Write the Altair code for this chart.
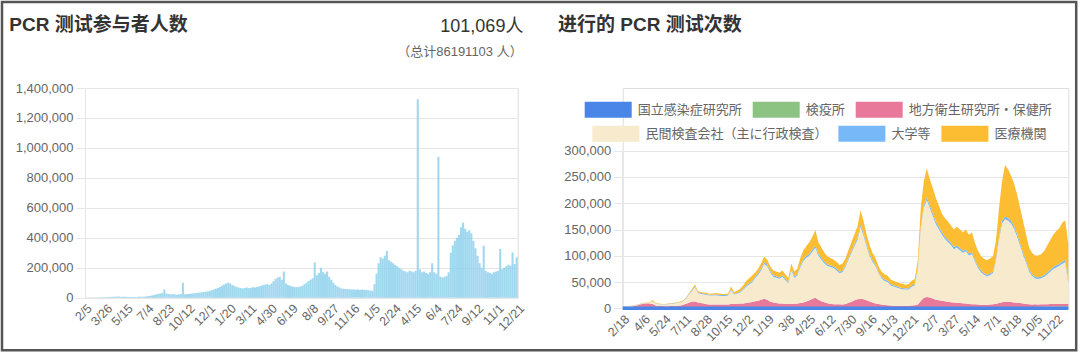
import altair as alt
import pandas as pd

# ---------------- text ----------------
left_title = "PCR 测试参与者人数"
left_latest = "101,069人"
left_total = "（总计86191103 人）"
right_title = "进行的 PCR 测试次数"

# ---------------- left chart data (thousands of people, one value per 5-day step) ----------------
left_start = "2020-02-05"
left_step_days = 5
left_values_k = [
    0.5, 1, 1, 1.5, 1.5, 2, 2, 2.5, 3, 3,
    3, 4, 5, 6, 7, 7, 8, 6, 7, 6,
    6, 5, 5, 6, 5, 6, 7, 6, 7, 8,
    10, 12, 15, 18, 22, 25, 28, 30, 55, 28,
    25, 22, 24, 22, 20, 22, 24, 100, 22, 24,
    25, 27, 28, 30, 32, 34, 36, 38, 40, 42,
    45, 50, 55, 60, 65, 72, 80, 88, 95, 100,
    95, 85, 78, 72, 68, 65, 62, 65, 68, 64,
    66, 70, 68, 72, 75, 80, 85, 88, 90, 85,
    95, 110, 125, 135, 140, 120, 175, 95, 85, 80,
    75, 72, 70, 72, 75, 80, 90, 100, 110, 120,
    130, 235, 150, 165, 200, 170, 160, 175, 140, 120,
    100, 85, 75, 68, 62, 60, 58, 58, 56, 55,
    55, 54, 55, 52, 54, 53, 52, 50, 48, 45,
    90, 160, 230, 270, 260, 280, 313, 250, 240, 230,
    220, 210, 200, 190, 180, 175, 170, 180, 175, 170,
    180, 1325, 190, 170, 175, 165, 160, 170, 230, 170,
    160, 940, 140, 135, 140, 145, 170, 300, 350, 380,
    400, 420, 470, 502, 460, 440, 450, 430, 380, 330,
    280, 230, 200, 347, 180, 170, 165, 160, 170, 175,
    180, 325, 190, 200, 210, 220, 215, 302, 225, 270,
]
left_ticks = ["2020-02-05", "2020-03-26", "2020-05-15", "2020-07-04", "2020-08-23", "2020-10-12",
              "2020-12-01", "2021-01-20", "2021-03-11", "2021-04-30", "2021-06-19", "2021-08-08",
              "2021-09-27", "2021-11-16", "2022-01-05", "2022-02-24", "2022-04-15", "2022-06-04",
              "2022-07-24", "2022-09-12", "2022-11-01", "2022-12-21"]
left_yticks = [0, 200000, 400000, 600000, 800000, 1000000, 1200000, 1400000]

# ---------------- right chart data (thousands of tests, weekly from 2020-02-18) ----------------
right_start = "2020-02-18"
right_step_days = 7
right_ticks = ["2020-02-18", "2020-04-06", "2020-05-24", "2020-07-11", "2020-08-28", "2020-10-15",
               "2020-12-02", "2021-01-19", "2021-03-08", "2021-04-25", "2021-06-12", "2021-07-30",
               "2021-09-16", "2021-11-03", "2021-12-21", "2022-02-07", "2022-03-27", "2022-05-14",
               "2022-07-01", "2022-08-18", "2022-10-05", "2022-11-22"]
right_yticks = [0, 50000, 100000, 150000, 200000, 250000, 300000]

series_names = ["国立感染症研究所", "検疫所", "地方衛生研究所・保健所",
                "民間検査会社（主に行政検査）", "大学等", "医療機関"]
series_colors = ["#4a86e8", "#8cc383", "#e9799a", "#f7eacd", "#76b8f8", "#fcbd33"]

niid_k = [
    0.3, 0.3, 0.3, 0.3, 0.4, 0.4, 0.4, 0.4, 0.3, 0.3, 0.3, 0.3, 0.2, 0.2, 0.2, 0.2, 0.2, 0.2, 0.2, 0.2, 0.2, 0.3, 0.3, 0.3, 0.3,
    0.3, 0.3, 0.3, 0.2, 0.2, 0.2, 0.2, 0.2, 0.2, 0.2, 0.2, 0.2, 0.2, 0.2, 0.2, 0.2, 0.2, 0.2, 0.2, 0.3, 0.3, 0.3, 0.3, 0.3, 0.3,
    0.3, 0.3, 0.3, 0.3, 0.2, 0.2, 0.2, 0.2, 0.2, 0.3, 0.3, 0.3, 0.3, 0.3, 0.3, 0.2, 0.2, 0.2, 0.2, 0.2, 0.2, 0.2, 0.2, 0.2, 0.2,
    0.3, 0.3, 0.3, 0.3, 0.3, 0.2, 0.2, 0.2, 0.2, 0.2, 0.2, 0.2, 0.2, 0.2, 0.2, 0.2, 0.2, 0.2, 0.2, 0.2, 0.3, 0.3, 0.3, 0.3, 0.3,
    0.3, 0.3, 0.3, 0.3, 0.3, 0.3, 0.2, 0.2, 0.2, 0.2, 0.2, 0.2, 0.2, 0.2, 0.2, 0.2, 0.2, 0.2, 0.2, 0.2, 0.2, 0.2, 0.2, 0.2, 0.2,
    0.2, 0.3, 0.3, 0.3, 0.3, 0.3, 0.3, 0.2, 0.2, 0.2, 0.2, 0.2, 0.2, 0.2, 0.2, 0.2, 0.2, 0.2, 0.2, 0.2, 0.2, 0.2, 0.2, 0.2,
]
quarantine_k = [
    0.1, 0.1, 0.1, 0.2, 0.3, 0.4, 0.5, 0.4, 0.3, 0.2, 0.2, 0.2, 0.2, 0.2, 0.2, 0.2, 0.3, 0.3, 0.4, 0.4, 0.5, 0.6, 0.6, 0.7, 0.7,
    0.8, 0.8, 0.8, 0.9, 0.9, 1.0, 1.0, 1.0, 1.1, 1.1, 1.2, 1.2, 1.1, 1.0, 1.0, 1.0, 1.0, 1.1, 1.2, 1.3, 1.4, 1.3, 1.1, 1.0, 0.9,
    0.9, 0.9, 0.9, 1.0, 1.0, 1.0, 1.1, 1.1, 1.2, 1.2, 1.1, 1.0, 1.0, 1.0, 1.0, 1.1, 1.2, 1.3, 1.4, 1.5, 1.6, 1.6, 1.5, 1.4, 1.4,
    1.5, 1.5, 1.4, 1.3, 1.2, 1.2, 1.1, 1.1, 1.0, 1.0, 1.0, 1.0, 1.1, 1.2, 1.3, 1.4, 1.5, 1.5, 1.4, 1.6, 1.8, 2.0, 2.2, 2.2, 2.0,
    1.8, 1.6, 1.5, 1.4, 1.3, 1.3, 1.2, 1.2, 1.3, 1.4, 1.5, 1.6, 1.6, 1.5, 1.5, 1.4, 1.4, 1.5, 1.6, 1.7, 1.8, 1.9, 2.0, 2.1, 2.2,
    2.3, 2.4, 2.4, 2.3, 2.2, 2.1, 2.0, 2.0, 2.1, 2.2, 2.3, 2.4, 2.6, 2.8, 3.0, 3.2, 3.4, 3.5, 3.6, 3.6, 3.7, 3.8, 3.8, 3.6,
]
local_k = [
    2, 2, 2.5, 3, 4, 5,
    7, 8, 9, 9, 8,
    5, 4, 4, 3.5, 3.5, 4, 4,
    4.5, 5, 6,
    8, 10, 12, 12,
    10, 9, 8, 7, 6.5, 6, 6, 6,
    6, 6, 6, 7,
    7, 7.5, 8, 8, 9, 10, 11,
    12, 13, 15, 17,
    15, 12, 10, 9,
    8, 8, 7.5, 7, 7, 7.5,
    8, 9, 10, 12, 14,
    17, 19, 15,
    12, 10, 8, 7,
    6, 6, 6, 6,
    7, 9, 11, 14, 16,
    17, 16, 14, 12, 10, 8, 7,
    6, 5, 4.5,
    4, 3.5, 3.5, 3, 3, 3, 3,
    3, 3.5, 5,
    12, 18, 20, 19, 17, 15, 14, 13, 12, 11, 10,
    9.5, 9, 8.5, 8, 7.5, 7, 6.5, 6, 5.5,
    5, 5, 5, 5, 5.5, 6.5,
    8, 9, 10, 10, 9.5, 9, 8.5, 8, 7, 6,
    5.5, 5, 5, 4.5, 4.5, 4.5, 4.5, 4.5, 4.5, 4.5, 5, 5, 5, 5,
]
private_k = [
    0.5, 0.5, 0.8, 1, 1, 0.8,
    0.5, 1, 1, 1.5, 5,
    3.5, 3.5, 3, 3.5, 4, 4, 4.5,
    5, 5.5, 6.5,
    10, 15, 20, 27,
    18, 17.5, 17.5, 17.5, 17, 17.5, 18, 17,
    16.5, 16.5, 17, 26,
    18, 19, 21, 26, 31, 34, 37,
    44, 49, 56, 66,
    64, 55, 49, 48,
    47, 51, 45.5, 40, 64, 49.5,
    53, 68, 79, 83, 85,
    90, 95, 84,
    79, 74, 71, 70,
    69, 65, 59, 61,
    70, 82, 93, 103, 113,
    137, 121, 103, 87, 77, 71, 58,
    50, 46, 44.5,
    38, 36.5, 34.5, 33, 32, 31, 31,
    36, 37.5, 66,
    137, 171, 184, 170, 157, 144, 135, 126, 119, 114, 109,
    101.5, 105, 100.5, 96, 99.5, 92, 95.5, 81, 69.5,
    62, 57, 54, 56, 59.5, 82.5,
    121, 150, 157, 154, 149.5, 140, 125.5, 109, 92, 78,
    61.5, 54, 49, 48.5, 49.5, 52.5, 56.5, 61.5, 66.5, 69.5, 72, 76, 79, 39,
]
univ_k = [
    0.2, 0.2, 0.2, 0.2, 0.2, 0.3, 0.3, 0.3, 0.3, 0.3, 0.4,
    0.5, 0.5, 0.5, 0.5, 0.5, 0.6, 0.6, 0.7, 0.8, 0.9,
    1.2, 1.4, 1.6, 1.8, 1.6, 1.5, 1.5, 1.5, 1.5, 1.5, 1.5, 1.5, 1.5, 1.5, 1.5, 1.8, 1.6, 1.7, 1.8, 2.0, 2.2, 2.4, 2.6,
    2.8, 3.0, 3.2, 3.4, 3.2, 3.0, 2.9, 2.9, 2.8, 2.9, 2.8, 2.7, 3.1, 2.9,
    3.0, 3.2, 3.4, 3.5, 3.6, 3.8, 4.0, 3.6,
    3.4, 3.2, 3.1, 3.0, 3.0, 2.9, 2.8, 2.9,
    3.0, 3.2, 3.4, 3.6, 3.8, 4.2, 4.0, 3.7, 3.4, 3.2, 3.0, 2.8,
    2.7, 2.6, 2.5, 2.4, 2.3, 2.3, 2.2, 2.2, 2.2, 2.2, 2.3, 2.4, 3.0,
    4.0, 4.8, 5.2, 5.0, 4.8, 4.6, 4.5, 4.4, 4.3, 4.2, 4.1,
    4.0, 4.0, 4.0, 3.9, 3.9, 3.8, 3.8, 3.6, 3.4,
    3.2, 3.1, 3.0, 3.0, 3.1, 3.6,
    4.4, 5.0, 5.4, 5.4, 5.2, 5.0, 4.8, 4.6, 4.2, 3.8,
    3.4, 3.2, 3.1, 3.1, 3.2, 3.3, 3.5, 3.7, 3.9, 4.1, 4.2, 4.3, 4.4, 4.0,
]
medical_k = [
    0.3, 0.3, 0.5, 0.5, 0.5, 0.5,
    0.5, 0.5, 0.5, 1, 2,
    1, 1, 0.5, 0.5, 1, 0.5, 1,
    1, 1, 1,
    0.5, 1.5, 2.5, 3.5,
    2.5, 2, 2, 2, 2, 2, 2.5, 2.5,
    2, 2, 2.5, 5.5,
    3.5, 4, 5.5, 6.5, 8.5, 9.5, 10.5,
    8, 9, 10, 11,
    9, 9, 9, 9,
    9, 9, 8, 7, 10, 9,
    10, 14, 17, 19, 22,
    24, 30, 22,
    20, 17, 15, 14,
    13, 13, 13, 14,
    14, 15, 17, 19, 22,
    27, 24, 19, 17, 14, 12, 11,
    10, 10, 9,
    9, 8, 8, 8, 8, 7, 8,
    9, 10, 15,
    35.5, 45.5, 55.5, 50.5, 48.5, 45.5, 40.5, 35.5, 35.5, 34.5, 33.5,
    33.5, 35.5, 35.5, 35.5, 37.5, 35.5, 37.5, 32.5, 29.5,
    27.5, 27.5, 27.5, 28.5, 29.5, 35.5,
    55.5, 75.5, 97.5, 92.5, 85.5, 80.5, 75.5, 67.5, 60.5, 50.5,
    42.5, 40.5, 40.5, 41.5, 42.5, 45.5, 51.5, 56.5, 61.5, 65.5, 67.5, 73.5, 75.5, 70,
]

# ---------------- tables ----------------
def to_dt(s):
    y, m, d = (int(p) for p in s.split("-"))
    return alt.DateTime(year=y, month=m, date=d, utc=True)

left_dates = pd.date_range(left_start, periods=len(left_values_k), freq=f"{left_step_days}D")
df_left = pd.DataFrame({
    "date": left_dates.strftime("%Y-%m-%d"),
    "end": (left_dates + pd.Timedelta(days=left_step_days)).strftime("%Y-%m-%d"),
    "value": [v * 1000 for v in left_values_k],
})

series_values = [niid_k, quarantine_k, local_k, private_k, univ_k, medical_k]
n_right = min(len(s) for s in series_values)
right_dates = pd.date_range(right_start, periods=n_right, freq=f"{right_step_days}D").strftime("%Y-%m-%d")
rows = []
for order, (name, vals) in enumerate(zip(series_names, series_values)):
    for d, v in zip(right_dates, vals):
        rows.append({"date": d, "series": name, "order": order, "value": v * 1000})
df_right = pd.DataFrame(rows)

# ---------------- layout constants ----------------
W_L, H_L = 432.7, 209.7
W_R, H_R = 445.6, 220.4
R_PLOT = 157.7
DX_R = 537.4          # offset of right plot origin from left plot origin
GRID = "#e6e6e6"
LBL = "#666666"
LATIN = "Liberation Sans, Noto Sans CJK SC"
CJK_SC = "Liberation Sans, Noto Sans CJK SC"
CJK_JP = "Noto Sans CJK JP"

def x_axis(ticks):
    return alt.Axis(values=[to_dt(t) for t in ticks],
                    labelExpr="utcFormat(datum.value, '%-m/%-d')",
                    labelAngle=-45, labelAlign="right", labelBaseline="top",
                    labelOverlap=False, labelPadding=4, labelFontSize=12.5,
                    labelColor=LBL, labelFont="Liberation Sans",
                    grid=False, ticks=False, domain=False, title=None)

def y_axis(vals, domain=True):
    return alt.Axis(values=vals, format=",d", grid=True, gridColor=GRID,
                    domain=domain, domainColor=GRID, ticks=True, tickColor=GRID,
                    tickSize=9, labelPadding=3, labelFontSize=13, labelColor=LBL,
                    labelOverlap=False, labelFont="Liberation Sans", title=None)

# ---------------- left chart ----------------
bars = alt.Chart(df_left).mark_bar(color="#87ceeb", opacity=0.8).encode(
    x=alt.X("date:T", scale=alt.Scale(type="utc", domain=[to_dt("2020-02-05"), to_dt("2022-12-21")]),
            axis=x_axis(left_ticks)),
    x2="end:T",
    y=alt.Y("value:Q", scale=alt.Scale(domain=[0, 1400000]), axis=y_axis(left_yticks)),
    y2=alt.datum(0),
)

def label(text, x, y, size, weight="normal", align="left", color="#333333", font=CJK_SC):
    return alt.Chart(pd.DataFrame({"t": [text]})).mark_text(
        align=align, baseline="middle", fontSize=size, fontWeight=weight, color=color, font=font
    ).encode(x=alt.value(x), y=alt.value(y), text="t:N")

frame = alt.Chart(pd.DataFrame({"f": [0]})).mark_rect(
    fill="transparent", stroke="#555555", strokeWidth=2.5
).encode(x=alt.value(-83), x2=alt.value(991.2), y=alt.value(-86), y2=alt.value(262.2))

left = alt.layer(
    bars,
    label(left_title, -75.7, -63.3, 19, weight="bold"),
    label(left_latest, 438.4, -61.3, 18, align="right", font=LATIN),
    label(left_total, 437.7, -36.3, 13, align="right", color=LBL, font=LATIN),
    frame,
).properties(width=W_L, height=H_L)

# ---------------- right chart ----------------
base = alt.Chart(df_right).transform_stack(
    stack="value", groupby=["date"], as_=["y0", "y1"],
    sort=[alt.SortField(field="order", order="ascending")],
)
xr = alt.X("date:T", scale=alt.Scale(type="utc", domain=[to_dt("2020-02-18"), to_dt("2022-12-20")]),
           axis=x_axis(right_ticks))
yr_scale = alt.Scale(domain=[0, 300000], range=[H_R, H_R - R_PLOT])
yr = alt.Y("y1:Q", scale=yr_scale, axis=y_axis(right_yticks, domain=False))

sym = "M-1,-0.34H1V0.34H-1Z"
def legend(x, y):
    return alt.Legend(orient="none", legendX=x, legendY=y, direction="horizontal", title=None,
                      symbolType=sym, symbolSize=47 * 47, symbolStrokeWidth=0, symbolOpacity=1,
                      labelFont=CJK_JP, labelFontSize=13, labelColor=LBL, labelLimit=400,
                      labelOffset=6, columnPadding=10, padding=0)

area_a = base.transform_filter("datum.order < 3").mark_area(opacity=1, interpolate="linear").encode(
    x=xr, y=yr, y2="y0:Q",
    color=alt.Color("series:N", scale=alt.Scale(domain=series_names[:3], range=series_colors[:3]),
                    legend=legend(DX_R - 37.7, -1.9)),
)
area_b = base.transform_filter("datum.order >= 3").mark_area(opacity=1, interpolate="linear").encode(
    x=xr, y=alt.Y("y1:Q", scale=yr_scale, axis=y_axis(right_yticks, domain=False)), y2="y0:Q",
    fill=alt.Fill("series:N", scale=alt.Scale(domain=series_names[3:], range=series_colors[3:]),
                  legend=legend(DX_R - 30, 22)),
)
niid_line = base.transform_filter("datum.order == 0").mark_line(
    color=series_colors[0], strokeWidth=3.5
).encode(x=xr, y=alt.Y("y1:Q", scale=yr_scale, axis=y_axis(right_yticks, domain=False)))

y_domain_line = alt.Chart(pd.DataFrame({"f": [0]})).mark_rule(color=GRID, strokeWidth=1).encode(
    x=alt.value(0), y=alt.value(H_R - R_PLOT), y2=alt.value(H_R)
)

right = alt.layer(
    y_domain_line, area_a, area_b, niid_line,
    label(right_title, -64.7, -63.3, 19, weight="bold"),
).properties(width=W_R, height=H_R)

chart = alt.hconcat(left, right, spacing=104.7, bounds="flush", padding=0).configure_view(
    stroke=None
).configure(background="white")

chart.save("out.html", embed_options={"renderer": "svg", "actions": False})
